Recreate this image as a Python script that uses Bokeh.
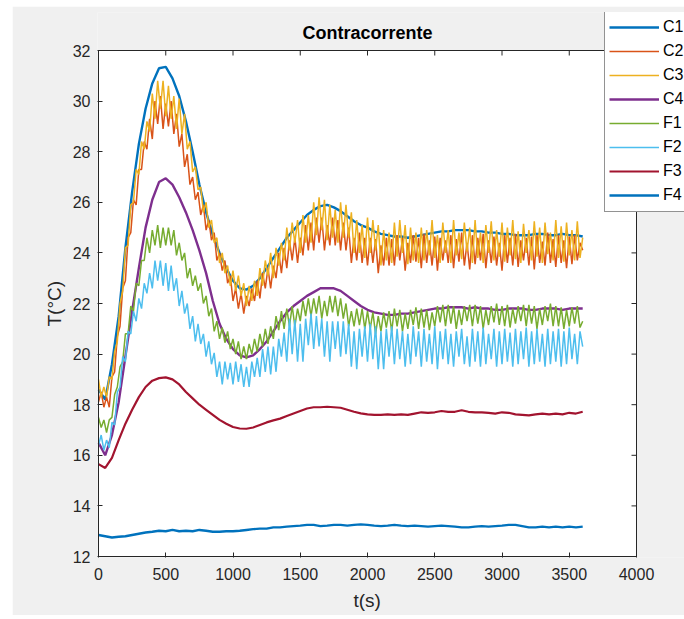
import numpy as np
from bokeh.plotting import figure
from bokeh.layouts import row, column
from bokeh.models import (Range1d, Legend, LegendItem, FixedTicker, Spacer,
                          Title, Label)
from bokeh.embed import file_html
from bokeh.resources import INLINE

# ---------------- data ----------------
series_names = ["C1", "C2", "C3", "C4", "F1", "F2", "F3", "F4"]
x_ticks = [0, 500, 1000, 1500, 2000, 2500, 3000, 3500, 4000]
y_ticks = [12, 14, 16, 18, 20, 22, 24, 26, 28, 30, 32]

t_smooth = list(range(0, 3601, 50))   # sample times (s) of the smooth series
t_noisy = list(range(0, 3601, 20))    # sample times (s) of the noisy series

C1 = [18.6, 18.2, 19.6, 21.5, 24.2, 26.4, 28.3, 29.7, 30.7, 31.3,
      31.35, 30.9, 30.2, 29.2, 28.0, 26.7, 25.6, 24.7, 24.0, 23.4,
      22.9, 22.6, 22.55, 22.7, 23.0, 23.4, 23.8, 24.2, 24.6, 24.9,
      25.2, 25.5, 25.7, 25.85, 25.9, 25.8, 25.65, 25.45, 25.25, 25.1,
      25.0, 24.85, 24.75, 24.7, 24.65, 24.65, 24.6, 24.65, 24.7, 24.75,
      24.8, 24.85, 24.85, 24.9, 24.9, 24.9, 24.85, 24.85, 24.8, 24.8,
      24.75, 24.75, 24.7, 24.7, 24.7, 24.75, 24.75, 24.7, 24.7, 24.75,
      24.7, 24.7, 24.65]

C4 = [16.5, 16.0, 16.8, 18.1, 19.9, 21.7, 23.4, 25.0, 26.1, 26.8,
      26.95, 26.7, 26.2, 25.6, 24.9, 24.1, 23.2, 22.1, 21.2, 20.6,
      20.2, 19.95, 19.87, 19.95, 20.2, 20.5, 20.9, 21.3, 21.65, 21.9,
      22.1, 22.3, 22.45, 22.6, 22.6, 22.6, 22.5, 22.3, 22.1, 21.9,
      21.75, 21.65, 21.6, 21.55, 21.55, 21.6, 21.6, 21.65, 21.7, 21.75,
      21.8, 21.8, 21.85, 21.85, 21.85, 21.8, 21.85, 21.8, 21.8, 21.75,
      21.75, 21.8, 21.8, 21.8, 21.75, 21.75, 21.8, 21.8, 21.8, 21.75,
      21.8, 21.8, 21.8]

F3 = [15.65, 15.5, 15.9, 16.6, 17.25, 17.8, 18.3, 18.7, 18.95, 19.05,
      19.08, 19.0, 18.8, 18.5, 18.25, 18.0, 17.8, 17.6, 17.4, 17.25,
      17.12, 17.06, 17.05, 17.1, 17.2, 17.3, 17.38, 17.45, 17.55, 17.65,
      17.75, 17.85, 17.9, 17.9, 17.92, 17.9, 17.88, 17.8, 17.72, 17.66,
      17.62, 17.6, 17.6, 17.62, 17.6, 17.62, 17.6, 17.65, 17.7, 17.68,
      17.7, 17.75, 17.72, 17.72, 17.78, 17.72, 17.7, 17.7, 17.68, 17.65,
      17.7, 17.68, 17.62, 17.6, 17.58, 17.62, 17.65, 17.62, 17.65, 17.62,
      17.68, 17.65, 17.72]

F4 = [12.85, 12.8, 12.75, 12.78, 12.8, 12.85, 12.9, 12.95, 12.98, 13.02,
      13.0, 13.05, 13.0, 13.02, 13.0, 13.05, 13.02, 12.98, 12.98, 13.0,
      13.0, 13.02, 13.05, 13.08, 13.1, 13.1, 13.15, 13.15, 13.18, 13.2,
      13.22, 13.25, 13.25, 13.2, 13.22, 13.25, 13.25, 13.22, 13.25, 13.27,
      13.25, 13.22, 13.2, 13.22, 13.25, 13.22, 13.2, 13.22, 13.2, 13.18,
      13.2, 13.22, 13.2, 13.18, 13.15, 13.15, 13.18, 13.2, 13.18, 13.2,
      13.22, 13.25, 13.25, 13.2, 13.15, 13.15, 13.18, 13.15, 13.18, 13.15,
      13.18, 13.15, 13.18]

C3 = [19.0, 18.3, 18.7, 18.3, 19.1, 19.0, 20.1, 20.5, 22.0, 22.5,
      24.2, 24.3, 25.9, 26.0, 27.3, 27.1, 28.4, 28.1, 29.2, 28.8,
      30.3, 29.3, 30.8, 29.7, 30.8, 29.4, 30.6, 29.3, 30.2, 28.9,
      30.1, 28.7, 29.5, 28.1, 28.4, 27.2, 27.4, 26.5, 26.6, 25.6,
      26.0, 25.0, 25.3, 24.4, 24.6, 23.6, 24.0, 23.2, 23.5, 22.7,
      23.3, 22.5, 23.1, 22.3, 22.8, 21.9, 22.7, 22.1, 22.9, 22.3,
      23.4, 22.7, 23.7, 23.1, 24.0, 23.0, 24.2, 23.5, 24.4, 23.7,
      25.0, 24.1, 25.2, 24.4, 25.3, 24.0, 25.5, 24.4, 25.5, 24.4,
      26.0, 24.7, 26.2, 24.9, 26.1, 24.5, 25.9, 24.6, 25.7, 24.4,
      26.0, 24.6, 25.9, 24.6, 25.6, 24.0, 25.3, 24.0, 25.1, 23.8,
      25.4, 24.0, 25.3, 24.1, 25.1, 23.5, 24.9, 23.7, 24.8, 23.6,
      25.2, 23.85, 25.3, 24.0, 25.1, 23.55, 25.0, 23.7, 24.8, 23.6,
      25.0, 23.7, 24.9, 23.9, 25.3, 23.8, 24.7, 23.6, 25.2, 24.0,
      24.9, 23.6, 25.3, 23.9, 24.8, 23.75, 25.2, 24.05, 25.0, 23.6,
      25.3, 23.8, 24.8, 23.6, 25.1, 24.0, 25.25, 23.7, 24.9, 23.85,
      25.2, 23.65, 25.0, 23.9, 25.3, 23.75, 24.85, 23.6, 25.15, 24.0,
      24.9, 23.7, 25.25, 23.85, 25.0, 23.6, 25.2, 23.95, 24.8, 23.7,
      25.3, 23.8, 25.05, 23.65, 25.2, 23.9, 24.9, 23.7, 25.25, 23.8,
      24.6]

C2 = [18.1, 18.5, 17.9, 18.3, 17.9, 19.1, 19.3, 20.7, 21.1, 22.6,
      22.9, 24.6, 24.8, 26.1, 25.9, 27.3, 27.3, 28.4, 28.1, 29.3,
      28.5, 30.0, 29.1, 30.2, 28.9, 29.9, 29.0, 30.0, 28.7, 29.5,
      28.2, 28.7, 27.4, 27.9, 26.7, 27.0, 26.1, 26.4, 25.5, 25.9,
      24.9, 25.3, 24.5, 24.8, 23.7, 24.0, 23.3, 23.7, 22.8, 23.1,
      22.1, 22.6, 21.8, 22.4, 21.6, 22.3, 21.9, 22.6, 22.1, 22.9,
      22.2, 23.2, 22.6, 23.4, 22.6, 23.5, 23.0, 24.0, 23.2, 24.2,
      23.4, 24.5, 23.7, 24.6, 23.6, 24.6, 23.9, 25.1, 24.1, 25.2,
      24.1, 25.4, 24.4, 25.4, 24.1, 25.1, 24.3, 25.4, 24.3, 25.3,
      24.1, 25.2, 24.1, 25.0, 23.6, 24.6, 23.7, 24.8, 23.6, 24.6,
      23.5, 24.6, 23.6, 24.55, 23.2, 24.3, 23.5, 24.6, 23.5, 24.55,
      23.5, 24.7, 23.7, 24.6, 23.3, 24.4, 23.6, 24.7, 23.65, 24.6,
      23.4, 24.75, 23.6, 24.5, 23.5, 24.65, 23.3, 24.6, 23.7, 24.5,
      23.6, 24.7, 23.4, 24.55, 23.65, 24.8, 23.5, 24.4, 23.35, 24.7,
      23.55, 24.6, 23.7, 24.75, 23.4, 24.5, 23.6, 24.65, 23.5, 24.4,
      23.3, 24.7, 23.6, 24.6, 23.5, 24.75, 23.45, 24.5, 23.7, 24.6,
      23.5, 24.65, 23.35, 24.7, 23.6, 24.45, 23.5, 24.8, 23.6, 24.55,
      23.45, 24.7, 23.6, 24.5, 23.4, 24.65, 23.55, 24.7, 23.7, 24.4,
      24.1]

F1 = [17.5, 17.1, 17.4, 16.9, 17.4, 17.5, 18.4, 18.7, 19.5, 19.7,
      20.8, 20.8, 21.9, 21.7, 22.8, 22.7, 23.7, 23.7, 24.6, 24.0,
      24.9, 24.3, 25.1, 24.2, 25.0, 24.3, 25.0, 24.3, 24.9, 23.9,
      24.4, 23.7, 24.0, 23.0, 23.4, 22.7, 23.1, 22.5, 22.8, 22.0,
      22.3, 21.5, 21.8, 20.9, 21.3, 20.6, 21.05, 20.45, 20.9, 20.2,
      20.6, 20.0, 20.5, 19.8, 20.3, 19.8, 20.4, 20.0, 20.6, 20.1,
      20.8, 20.3, 21.0, 20.4, 21.1, 20.6, 21.5, 20.95, 21.7, 21.0,
      21.8, 21.1, 21.9, 21.1, 21.8, 21.3, 22.1, 21.5, 22.2, 21.5,
      22.2, 21.6, 22.3, 21.4, 22.1, 21.5, 22.3, 21.65, 22.3, 21.5,
      22.2, 21.4, 22.0, 21.1, 21.7, 21.1, 21.8, 21.15, 21.8, 21.0,
      21.7, 21.0, 21.65, 20.8, 21.5, 20.9, 21.65, 21.05, 21.7, 20.9,
      21.8, 21.1, 21.75, 20.9, 21.6, 21.0, 21.75, 21.15, 21.85, 21.0,
      21.8, 21.05, 21.75, 20.95, 21.65, 21.1, 21.9, 21.25, 21.95, 21.1,
      21.95, 21.2, 21.9, 21.0, 21.75, 21.15, 21.9, 21.3, 21.95, 21.1,
      21.95, 21.2, 21.9, 21.0, 21.75, 21.15, 21.9, 21.25, 22.0, 21.15,
      21.9, 21.1, 21.95, 21.05, 21.8, 21.2, 21.9, 21.3, 21.95, 21.1,
      21.95, 21.2, 21.9, 21.0, 21.8, 21.15, 21.9, 21.3, 22.0, 21.1,
      21.9, 21.1, 21.85, 21.0, 21.75, 21.1, 21.85, 21.2, 21.9, 21.05,
      21.3]

F2 = [16.4, 16.8, 16.2, 16.6, 16.3, 17.3, 17.2, 18.5, 18.7, 19.9,
      19.7, 20.9, 20.8, 21.7, 21.3, 22.2, 21.8, 22.8, 22.4, 23.2,
      22.6, 23.7, 22.9, 23.7, 22.7, 23.6, 22.5, 23.5, 22.5, 23.0,
      21.9, 22.5, 21.6, 22.0, 21.0, 21.5, 20.5, 21.2, 20.4, 20.8,
      19.9, 20.5, 19.6, 20.05, 19.1, 19.7, 18.8, 19.7, 19.0, 19.65,
      18.8, 19.7, 18.9, 19.6, 18.7, 19.5, 18.7, 19.7, 19.1, 19.85,
      19.1, 20.2, 19.3, 20.3, 19.2, 20.3, 19.3, 20.6, 19.9, 20.85,
      19.7, 21.4, 20.0, 21.35, 19.7, 21.2, 19.7, 21.4, 20.35, 21.6,
      20.2, 21.5, 20.3, 21.4, 19.9, 21.3, 19.7, 21.3, 20.2, 21.3,
      19.9, 21.3, 20.0, 21.2, 19.5, 20.9, 19.4, 21.0, 19.9, 21.1,
      19.7, 21.2, 19.8, 21.1, 19.4, 20.9, 19.4, 21.0, 19.9, 21.1,
      19.6, 21.0, 19.8, 20.9, 19.5, 20.8, 19.6, 21.1, 19.9, 20.9,
      19.5, 21.0, 19.7, 20.8, 19.6, 21.1, 19.4, 20.9, 19.8, 21.0,
      19.6, 20.8, 19.5, 20.9, 19.9, 21.0, 19.6, 20.7, 19.5, 21.0,
      19.7, 20.9, 19.5, 21.05, 19.6, 20.8, 19.8, 21.0, 19.5, 20.9,
      19.6, 21.0, 19.7, 20.85, 19.5, 21.0, 19.6, 20.9, 19.8, 21.05,
      19.5, 20.9, 19.6, 21.0, 19.7, 20.8, 19.5, 21.0, 19.6, 20.9,
      19.7, 21.0, 19.5, 20.9, 19.6, 21.05, 19.8, 20.8, 19.6, 20.9,
      20.3]

colors = {"C1": "#0072BD", "C2": "#D95319", "C3": "#EDB120", "C4": "#7E2F8E",
          "F1": "#77AC30", "F2": "#4DBEEE", "F3": "#A2142F", "F4": "#0072BD"}

FONT = "Liberation Sans"
AX = "#262626"
BG = "#f0f0f0"

# ---------------- geometry (pixels) ----------------
FIG_W, FIG_H = 672, 609
B_LEFT, B_TOP, B_RIGHT, B_BOTTOM = 85, 6, 0, 58
FRAME_W = FIG_W - B_LEFT - B_RIGHT          # 587
FRAME_H = FIG_H - B_TOP - B_BOTTOM          # 545
PX_X = 538.0 / (x_ticks[-1] - x_ticks[0])   # px per second inside the axes box
PX_Y = 506.0 / (y_ticks[-1] - y_ticks[0])   # px per degree inside the axes box
x0 = x_ticks[0] - 1.0 / PX_X
y0 = y_ticks[0] - 1.0 / PX_Y

p = figure(width=FIG_W, height=FIG_H, title=None,
           x_range=Range1d(x0, x0 + FRAME_W / PX_X),
           y_range=Range1d(y0, y0 + FRAME_H / PX_Y),
           output_backend="svg", toolbar_location=None,
           min_border_left=B_LEFT, min_border_right=B_RIGHT,
           min_border_top=B_TOP, min_border_bottom=B_BOTTOM,
           background_fill_color=BG, border_fill_color=BG,
           outline_line_color=None)
p.grid.visible = False

# axes box (white area)
p.quad(left=[x_ticks[0]], right=[x_ticks[-1]], bottom=[y_ticks[0]], top=[y_ticks[-1]],
       fill_color="white", line_color=None)

for ax in (p.xaxis[0], p.yaxis[0]):
    ax.major_tick_in = 5
    ax.major_tick_out = 0
    ax.minor_tick_in = 0
    ax.minor_tick_out = 0
    ax.axis_line_color = None
    ax.major_tick_line_color = AX
    ax.major_label_text_font = FONT
    ax.major_label_text_font_size = "16px"
    ax.major_label_text_color = AX
p.xaxis[0].ticker = FixedTicker(ticks=x_ticks)
p.yaxis[0].ticker = FixedTicker(ticks=y_ticks)
p.xaxis[0].major_label_standoff = 10
p.yaxis[0].major_label_standoff = 7

# axis titles
xlab = Title(text="t(s)", align="left", offset=256, text_font=FONT,
             text_font_size="19px", text_font_style="normal", text_color=AX)
ylab = Title(text="T(°C)", align="left", offset=231, text_font=FONT,
             text_font_size="19px", text_font_style="normal", text_color=AX)
p.add_layout(xlab, "below")
p.add_layout(ylab, "left")

# data lines
data = {"C1": (t_smooth, C1), "C2": (t_noisy, C2), "C3": (t_noisy, C3),
        "C4": (t_smooth, C4), "F1": (t_noisy, F1), "F2": (t_noisy, F2),
        "F3": (t_smooth, F3), "F4": (t_smooth, F4)}
widths = {"C1": 2.4, "C2": 1.5, "C3": 1.5, "C4": 2.4,
          "F1": 1.5, "F2": 1.5, "F3": 2.2, "F4": 2.4}
renderers = {}
for name in series_names:
    tx, ty = data[name]
    renderers[name] = p.line(tx, ty, line_color=colors[name], line_width=widths[name])

# box outline and inward ticks on top and right
p.quad(left=[x_ticks[0]], right=[x_ticks[-1]], bottom=[y_ticks[0]], top=[y_ticks[-1]],
       fill_color=None, line_color=AX, line_width=1)
p.ray(x=[x_ticks[-1]] * len(y_ticks), y=y_ticks, length=5, angle=np.pi,
      length_units="screen", line_color=AX, line_width=1)
p.ray(x=x_ticks, y=[y_ticks[-1]] * len(x_ticks), length=5, angle=-np.pi / 2,
      length_units="screen", line_color=AX, line_width=1)

# chart title
p.add_layout(Label(x=(x_ticks[0] + x_ticks[-1]) / 2, y=y_ticks[-1], y_offset=18,
                   text="Contracorrente", text_align="center", text_baseline="middle",
                   text_font=FONT, text_font_size="18px", text_font_style="bold",
                   text_color="#000000"))

legend = Legend(items=[LegendItem(label=n, renderers=[renderers[n]]) for n in series_names],
                location=(507, 345), orientation="vertical",
                border_line_color=AX, border_line_width=1,
                background_fill_color="white", background_fill_alpha=1.0,
                label_text_font=FONT, label_text_font_size="16px",
                label_text_color="#000000",
                glyph_width=50, glyph_height=24, label_height=24,
                spacing=0, padding=4, margin=0, label_standoff=4)
p.add_layout(legend, "center")

page = row(Spacer(width=12, height=615),
           column(Spacer(width=672, height=6), p))

open("out.html", "w").write(file_html(page, INLINE))
